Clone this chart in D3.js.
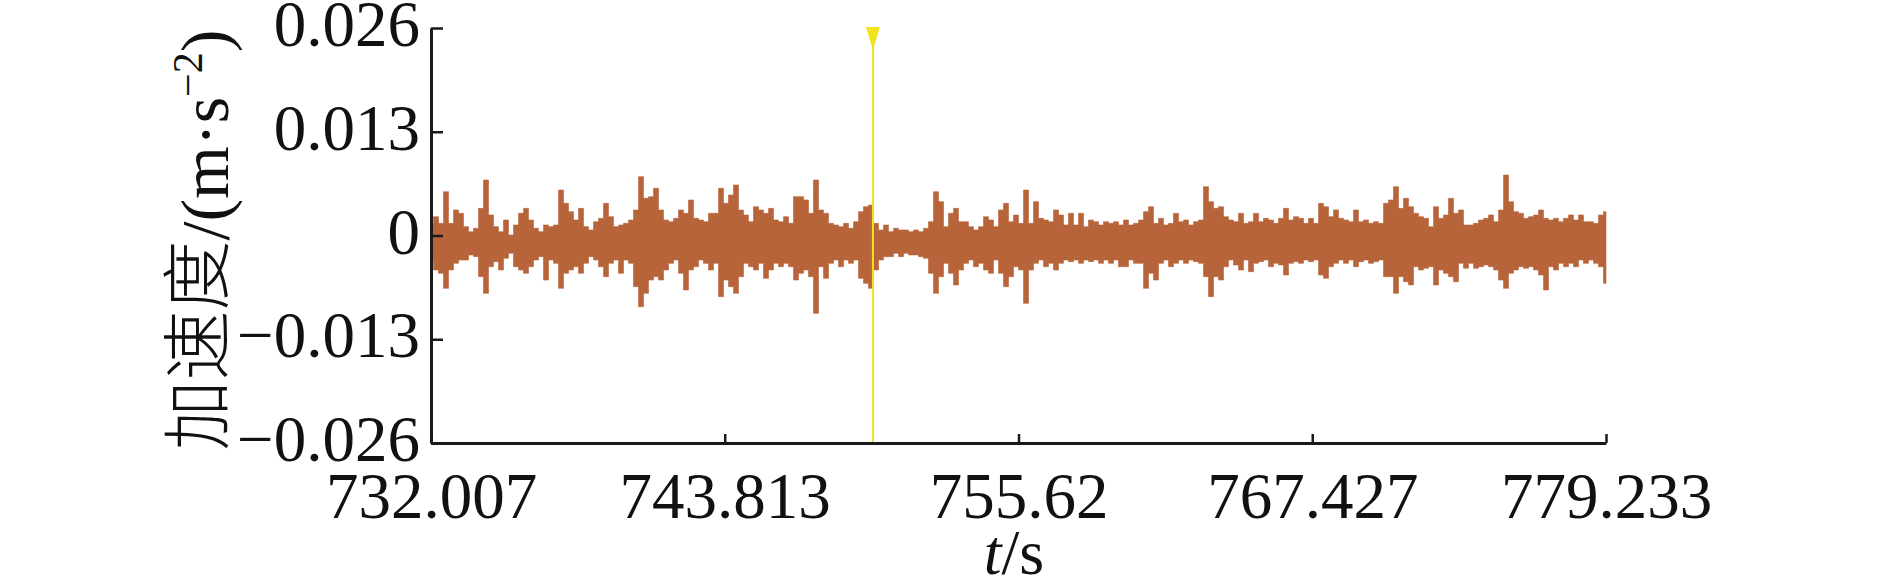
<!DOCTYPE html>
<html>
<head>
<meta charset="utf-8">
<script src="https://cdn.jsdelivr.net/npm/d3@7"></script>
<style>
  body { margin: 0; background: #fff; }
</style>
</head>
<body>
<svg id="chart" width="1890" height="588"></svg>
<script>
   (function() {

       // time span of the record (s)
       var tStart = 732.007,
           tEnd = 779.233;
       var xTicks = [732.007, 743.813, 755.62, 767.427, 779.233];
       var xTickLabels = ["732.007", "743.813", "755.62", "767.427", "779.233"];
       var yTicks = [-0.026, -0.013, 0, 0.013, 0.026];
       var yTickLabels = ["\u22120.026", "\u22120.013", "0", "0.013", "0.026"];
       var cursorT = 749.77;

       // envelope of the acceleration record, upper / lower peak per bin, in 1e-3 m/s^2
       var peakHi = [
           1.32, 2.36, 1.52, 5.49, 1.52, 3.20, 2.78, 1.11, 0.48, 0.90, 3.40, 6.95, 2.57, 1.11, 0.48, 1.94,
           0.06, 1.32, 2.78, 3.40, 1.94, 0.90, 0.48, 1.32, 1.11, 1.32, 5.70, 4.03, 2.99, 1.94, 3.40, 1.11,
           0.69, 1.73, 2.15, 4.03, 2.36, 1.11, 1.32, 1.52, 1.94, 3.20, 7.37, 4.66, 4.87, 5.91, 3.20, 1.94,
           1.73, 2.15, 3.20, 2.78, 4.45, 2.15, 1.94, 1.73, 2.78, 2.78, 5.91, 4.03, 5.07, 6.33, 3.20, 2.57,
           1.73, 3.61, 3.20, 2.78, 3.40, 1.94, 1.73, 2.36, 1.52, 4.87, 4.87, 4.45, 2.78, 6.95, 3.20, 2.78,
           1.52, 1.32, 1.11, 1.52, 0.90, 1.73, 2.99, 3.61, 3.82, 1.52, 0.69, 1.32, 0.48, 0.90, 0.69, 0.69,
           0.48, 0.69, 0.48, 0.90, 1.73, 5.49, 4.24, 1.11, 2.78, 3.40, 1.73, 1.73, 1.11, 0.69, 1.11, 2.36,
           1.94, 1.11, 3.20, 4.03, 1.73, 2.57, 1.52, 5.70, 1.52, 4.24, 2.15, 1.94, 1.73, 3.20, 2.57, 1.32,
           2.78, 1.32, 2.78, 1.11, 1.94, 1.73, 1.32, 1.73, 1.52, 1.73, 1.32, 1.94, 1.32, 1.52, 1.94, 2.99,
           3.61, 1.52, 2.15, 1.32, 1.52, 2.78, 1.73, 1.94, 1.32, 1.73, 1.94, 6.12, 4.24, 3.40, 3.61, 2.36,
           1.94, 1.73, 2.78, 1.52, 1.73, 2.78, 1.73, 2.15, 1.94, 1.52, 2.15, 3.40, 1.94, 2.36, 2.15, 1.52,
           2.15, 1.52, 4.03, 3.61, 2.36, 3.20, 2.15, 1.94, 1.73, 3.20, 1.73, 1.94, 1.52, 1.73, 1.52, 4.03,
           4.45, 6.12, 3.40, 4.66, 3.61, 2.78, 2.36, 2.15, 1.11, 3.61, 2.15, 2.57, 4.66, 2.78, 3.20, 1.32,
           1.32, 1.52, 1.94, 2.15, 2.57, 1.73, 3.20, 7.58, 4.24, 2.99, 2.78, 2.15, 2.36, 2.57, 3.20, 2.15,
           1.94, 2.15, 1.73, 2.15, 2.57, 1.94, 2.57, 1.73, 1.73, 1.52, 2.57, 2.99
       ];
       var peakLo = [
           -3.07, -4.32, -4.74, -6.62, -4.32, -3.49, -3.07, -3.07, -2.44, -2.65, -5.16, -7.25, -3.91, -3.28, -4.32, -2.86,
           -2.23, -3.91, -4.32, -4.74, -3.91, -3.07, -2.65, -5.58, -3.07, -3.49, -6.62, -4.74, -4.32, -3.91, -4.74, -3.49,
           -2.65, -3.07, -3.91, -5.16, -3.49, -3.07, -4.74, -3.07, -3.49, -6.41, -8.92, -7.25, -5.58, -5.16, -5.58, -4.32,
           -3.49, -3.07, -4.74, -6.83, -4.32, -3.91, -3.07, -3.49, -4.32, -3.49, -7.66, -5.58, -6.41, -7.25, -5.16, -3.49,
           -3.91, -4.32, -3.49, -5.37, -4.32, -3.49, -3.91, -3.49, -3.91, -5.58, -4.74, -4.32, -5.16, -9.75, -3.91, -5.37,
           -3.49, -3.07, -3.91, -3.07, -3.49, -3.07, -5.37, -5.99, -6.62, -4.32, -3.07, -2.65, -2.65, -2.23, -2.65, -2.23,
           -2.44, -2.44, -2.65, -2.86, -4.74, -7.25, -5.16, -3.49, -4.74, -6.20, -4.32, -3.49, -3.07, -3.91, -3.49, -4.32,
           -4.74, -3.07, -4.74, -6.41, -5.16, -3.91, -4.32, -8.50, -4.32, -3.49, -3.07, -3.91, -3.49, -4.32, -3.49, -3.07,
           -3.28, -3.07, -3.49, -3.07, -3.28, -3.07, -3.49, -3.07, -3.49, -3.07, -3.91, -3.91, -3.07, -3.49, -3.49, -6.62,
           -4.74, -5.58, -3.49, -3.07, -3.91, -3.49, -3.07, -3.49, -3.07, -3.28, -3.49, -5.16, -7.66, -5.16, -5.58, -3.91,
           -3.07, -3.70, -4.32, -3.07, -4.53, -3.49, -3.28, -3.07, -3.91, -3.49, -3.70, -4.95, -3.49, -3.28, -3.49, -3.07,
           -3.28, -3.07, -4.95, -5.37, -3.91, -3.49, -3.07, -3.49, -3.07, -3.91, -3.28, -3.07, -3.49, -3.28, -3.07, -5.16,
           -5.16, -7.25, -5.16, -5.79, -6.20, -3.91, -4.32, -4.11, -3.91, -6.20, -4.32, -4.74, -5.16, -5.79, -3.49, -4.11,
           -3.49, -4.11, -3.91, -3.70, -3.91, -4.32, -5.58, -6.62, -4.74, -4.32, -3.91, -4.11, -3.91, -4.32, -4.95, -6.83,
           -3.91, -4.32, -3.49, -3.91, -3.49, -3.91, -3.07, -3.49, -3.07, -3.49, -3.91, -5.99
       ];

       var svg = d3.select("#chart"),
           left = 431,
           right = 1606,
           top = 28,
           bottom = 443;

       var serif = "'Liberation Serif', 'Times New Roman', serif";
       var signalColor = "#b8643a",
           cursorColor = "#f2e31f",
           axisColor = "#1a1a1a";

       var x = d3.scaleLinear().domain([tStart, tEnd]).range([left, right]);
       var y = d3.scaleLinear().domain([-0.026, 0.026]).range([bottom, top]);

       var n = Math.min(peakHi.length, peakLo.length);
       var dt = (tEnd - tStart) / (n - 1);
       var samples = [];
       for (var i = 0; i < n; i++) {
           samples.push({ t: tStart + i * dt, hi: peakHi[i] / 1000, lo: peakLo[i] / 1000 });
       }

       var band = d3.area()
           .curve(d3.curveStep)
           .x(function(d) { return x(d.t); })
           .y0(function(d) { return y(d.lo); })
           .y1(function(d) { return y(d.hi); });

       svg.append("path")
           .datum(samples)
           .attr("d", band)
           .attr("fill", signalColor)
           .attr("stroke", signalColor)
           .attr("stroke-width", 0.6);

       // cursor line with its marker
       var cx = x(cursorT);
       svg.append("line")
           .attr("x1", cx).attr("x2", cx)
           .attr("y1", top - 1).attr("y2", bottom)
           .attr("stroke", cursorColor)
           .attr("stroke-width", 2);
       svg.append("path")
           .attr("d", "M" + (cx - 7) + "," + (top - 1) + "L" + (cx + 7) + "," + (top - 1) + "L" + cx + "," + (top + 22) + "Z")
           .attr("fill", cursorColor);

       var yAxis = d3.axisLeft(y)
           .tickValues(yTicks)
           .tickFormat(function(d, i) { return yTickLabels[i]; })
           .tickSizeInner(-12)
           .tickSizeOuter(0)
           .tickPadding(11);

       var xAxis = d3.axisBottom(x)
           .tickValues(xTicks)
           .tickFormat(function(d, i) { return xTickLabels[i]; })
           .tickSizeInner(-9)
           .tickSizeOuter(0)
           .tickPadding(29);

       var gy = svg.append("g")
           .attr("transform", "translate(" + left + ",0)")
           .call(yAxis);
       var gx = svg.append("g")
           .attr("transform", "translate(0," + bottom + ")")
           .call(xAxis);

       [gx, gy].forEach(function(g) {
           g.attr("font-family", serif).attr("font-size", 65);
           g.select(".domain").attr("stroke", axisColor).attr("stroke-width", 3);
           g.selectAll(".tick line").attr("stroke", axisColor).attr("stroke-width", 2.5);
           g.selectAll(".tick text").attr("fill", "#111");
       });
       gy.selectAll(".tick text").attr("dy", "0.27em");
       gx.selectAll(".tick text").attr("dy", "0.71em");

       // axis titles
       var xt = svg.append("text")
           .attr("x", 1014)
           .attr("y", 574)
           .attr("text-anchor", "middle")
           .attr("font-family", serif)
           .attr("font-size", 64)
           .attr("fill", "#111");
       xt.append("tspan").attr("font-style", "italic").text("t");
       xt.append("tspan").text("/s");

       var yt = svg.append("text")
           .attr("transform", "translate(228,240) rotate(-90)")
           .attr("text-anchor", "middle")
           .attr("font-family", serif)
           .attr("font-size", 68)
           .attr("fill", "#111");
       yt.append("tspan")
           .attr("font-family", "'Noto Sans CJK SC', sans-serif")
           .attr("font-weight", 300)
           .attr("font-size", 70)
           .attr("dy", -5)
           .text("加速度");
       yt.append("tspan").attr("dy", 5).text("/(m·s");
       yt.append("tspan").attr("font-size", 42).attr("dy", -26).text("\u22122");
       yt.append("tspan").attr("dy", 26).text(")");

   })();
</script>
</body>
</html>
